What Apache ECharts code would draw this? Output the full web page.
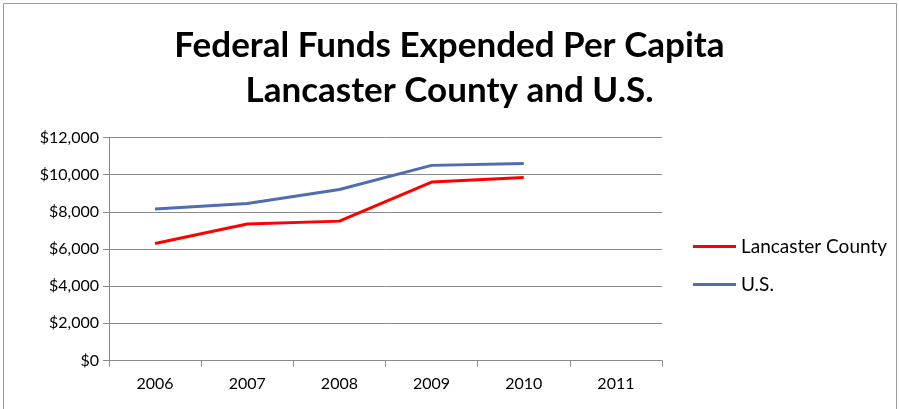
<!DOCTYPE html>
<html>
<head>
<meta charset="utf-8">
<script src="https://cdn.jsdelivr.net/npm/echarts@6/dist/echarts.min.js"></script>
<style>
html,body{margin:0;padding:0;background:#fff;}
#c{width:899px;height:409px;}
</style>
</head>
<body>
<div id="c"></div>
<script>
const titleLines = ['Federal Funds Expended Per Capita', 'Lancaster County and U.S.'];
const categories = ['2006', '2007', '2008', '2009', '2010', '2011'];
const lancaster = [6300, 7350, 7500, 9600, 9850, null];
const us = [8150, 8450, 9200, 10500, 10600, null];
const seriesNames = ['Lancaster County', 'U.S.'];
const yMin = 0, yMax = 12000, yStep = 2000;

const font = 'Lato, "Open Sans", sans-serif';
const chart = echarts.init(document.getElementById('c'), null, {renderer: 'canvas'});
chart.setOption({
  animation: false,
  backgroundColor: '#ffffff',
  title: {
    text: titleLines.join('\n'),
    left: 'center',
    top: 18,
    textStyle: {fontFamily: font, fontWeight: 'bold', fontSize: 35, lineHeight: 45, color: '#000'}
  },
  graphic: [{
    type: 'rect', shape: {x: 3.5, y: 3.5, width: 893, height: 410},
    style: {fill: 'none', stroke: '#9a9a9a', lineWidth: 1}, silent: true
  }],
  legend: {
    orient: 'vertical',
    left: 688,
    top: 232,
    itemWidth: 43,
    itemHeight: 3,
    itemGap: 19,
    icon: 'rect',
    data: seriesNames,
    textStyle: {fontFamily: font, fontSize: 19, color: '#000'}
  },
  grid: {left: 109, right: 237, top: 137.5, bottom: 48.5, containLabel: false},
  xAxis: {
    type: 'category',
    data: categories,
    boundaryGap: true,
    axisLine: {lineStyle: {color: '#8a8a8a', width: 1}},
    axisTick: {show: true, length: 6, inside: false, lineStyle: {color: '#8a8a8a'}},
    axisLabel: {fontFamily: font, fontSize: 16, color: '#000', margin: 15, interval: 0}
  },
  yAxis: {
    type: 'value',
    min: yMin, max: yMax, interval: yStep,
    axisLine: {show: true, lineStyle: {color: '#8a8a8a', width: 1}},
    axisTick: {show: true, length: 6, lineStyle: {color: '#8a8a8a'}},
    splitLine: {show: true, lineStyle: {color: '#8a8a8a', width: 1}},
    axisLabel: {
      fontFamily: font, fontSize: 16, color: '#000', margin: 10,
      formatter: v => '$' + v.toLocaleString('en-US')
    }
  },
  series: [
    {name: seriesNames[0], type: 'line', data: lancaster, symbol: 'none', color: '#ff0000',
     lineStyle: {width: 3, color: '#ff0000'}},
    {name: seriesNames[1], type: 'line', data: us, symbol: 'none', color: '#4f6db0',
     lineStyle: {width: 3, color: '#4f6db0'}}
  ]
});
</script>
</body>
</html>
